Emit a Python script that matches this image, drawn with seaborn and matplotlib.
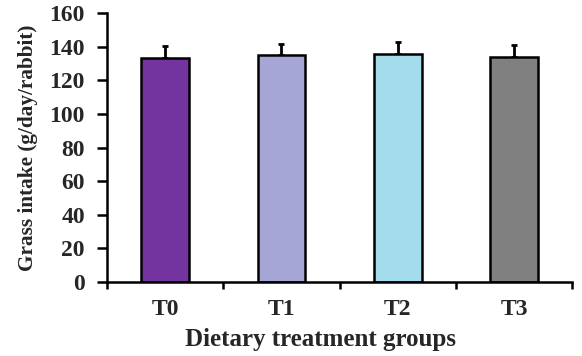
import pandas as pd
import matplotlib.pyplot as plt
import seaborn as sns
import numpy as np

sns.set_theme(style="white")
plt.rcParams["font.family"] = ["Liberation Serif", "DejaVu Serif"]
plt.rcParams["font.weight"] = "bold"

## DATA
groups = ["T0", "T1", "T2", "T3"]
intake = [133.1, 134.9, 135.7, 133.7]
intake_err = [7.5, 6.7, 6.9, 7.3]
colors = ["#7334A0", "#A5A5D6", "#A4DCEC", "#808080"]

df = pd.DataFrame({"group": groups, "intake": intake, "err": intake_err})

## PLOT
fig = plt.figure(figsize=(5.82, 3.56), dpi=100)
ax = fig.add_axes([0.184, 0.208, 0.799, 0.755])

sns.barplot(data=df, x="group", y="intake", hue="group", palette=colors, saturation=1,
            width=0.41, edgecolor="black", linewidth=1.8, legend=False, ax=ax)

ax.errorbar(np.arange(len(groups)), df["intake"], yerr=[np.zeros(len(groups)), df["err"]],
            fmt="none", ecolor="black", elinewidth=2, capsize=2, capthick=2, zorder=0)

ax.set_ylim(0, 160)
ax.set_yticks(np.arange(0, 161, 20))
ax.set_xlim(-0.5, len(groups) - 0.5)

# category boundary ticks, labels in the middle
ax.set_xticks(np.arange(-0.5, len(groups), 1.0))
ax.set_xticklabels([])
ax.set_xticks(np.arange(len(groups)), minor=True)
ax.set_xticklabels(groups, minor=True)
ax.tick_params(axis="x", which="major", direction="out", length=5, width=1.8, color="black", bottom=True)
ax.tick_params(axis="x", which="minor", length=0, pad=12, labelsize=17)
ax.tick_params(axis="y", direction="out", length=7, width=1.8, color="black", left=True, labelsize=17, pad=9)

for side in ["top", "right"]:
    ax.spines[side].set_visible(False)
for side in ["left", "bottom"]:
    ax.spines[side].set_color("black")
    ax.spines[side].set_linewidth(1.8)

ax.set_xlabel("Dietary treatment groups", fontsize=18, fontweight="bold")
ax.xaxis.set_label_coords(0.46, -0.172)
ax.set_ylabel("Grass intake (g/day/rabbit)", fontsize=15.3, fontweight="bold", labelpad=8)

fig.savefig("out.png", dpi=100)
